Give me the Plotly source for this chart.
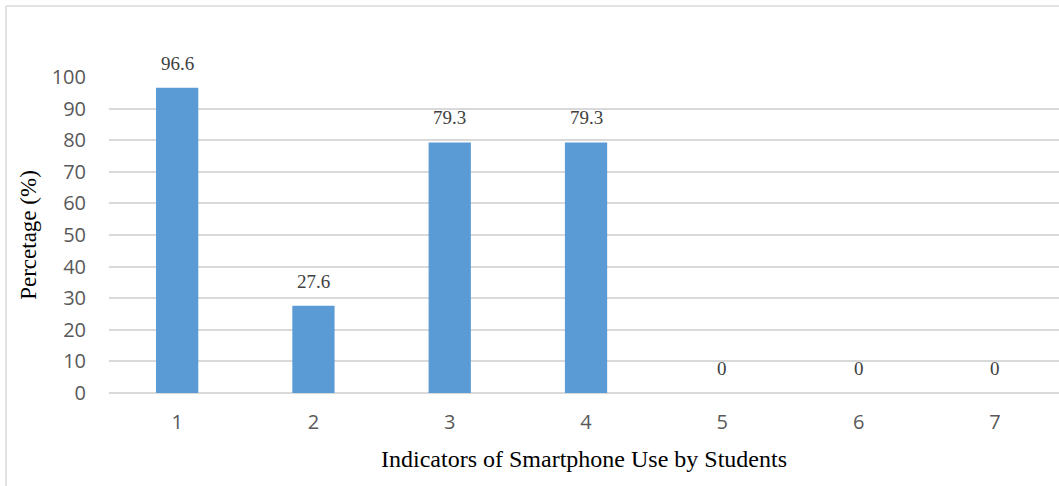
import plotly.graph_objects as go

# Indicator numbers and share of students (%)
indicators = [1, 2, 3, 4, 5, 6, 7]
percentages = [96.6, 27.6, 79.3, 79.3, 0, 0, 0]
value_labels = ["96.6", "27.6", "79.3", "79.3", "0", "0", "0"]
y_ticks = [0, 10, 20, 30, 40, 50, 60, 70, 80, 90, 100]

BAR_COLOR = "#5B9BD5"
GRID_COLOR = "#D9D9D9"
TICK_FONT = dict(family="Open Sans", size=20, color="#595959")
SERIF = "Liberation Serif"

fig = go.Figure()
fig.add_trace(go.Bar(
    x=indicators,
    y=percentages,
    width=0.31,
    marker=dict(color=BAR_COLOR, line=dict(width=0)),
    hoverinfo="x+y",
))

# value labels above each bar
for xi, yi, txt in zip(indicators, percentages, value_labels):
    fig.add_annotation(
        x=xi, y=yi, text=txt, showarrow=False,
        yanchor="bottom", yshift=12,
        font=dict(family=SERIF, size=19, color="#404040"),
    )

# outer chart frame (top and left edges)
fig.add_shape(type="line", xref="paper", yref="paper",
              x0=-0.1084, x1=-0.1084, y0=-0.35, y1=1.2247,
              line=dict(color=GRID_COLOR, width=1.5))
fig.add_shape(type="line", xref="paper", yref="paper",
              x0=-0.1084, x1=1.05, y0=1.2247, y1=1.2247,
              line=dict(color=GRID_COLOR, width=1.5))

fig.update_layout(
    width=1059, height=486,
    margin=dict(l=109, r=0, t=77, b=93),
    plot_bgcolor="white", paper_bgcolor="white",
    showlegend=False,
    xaxis=dict(
        range=[0.5, 7.47],
        tickmode="array", tickvals=indicators,
        ticktext=[str(i) for i in indicators],
        tickfont=TICK_FONT, ticks="", ticklen=0,
        ticklabelstandoff=15,
        showgrid=False, zeroline=False, showline=False,
        title=dict(text="Indicators of Smartphone Use by Students",
                   font=dict(family=SERIF, size=24, color="#000000"),
                   standoff=16),
    ),
    yaxis=dict(
        range=[0, 100],
        tickmode="array", tickvals=y_ticks,
        tickfont=TICK_FONT, ticks="",
        ticklabelstandoff=22,
        showgrid=True, gridcolor=GRID_COLOR, gridwidth=1.5,
        zeroline=True, zerolinecolor=GRID_COLOR, zerolinewidth=1.5,
        showline=False,
        title=dict(text="Percetage (%)",
                   font=dict(family=SERIF, size=23, color="#000000"),
                   standoff=8),
    ),
)

fig.write_html("out.html")
